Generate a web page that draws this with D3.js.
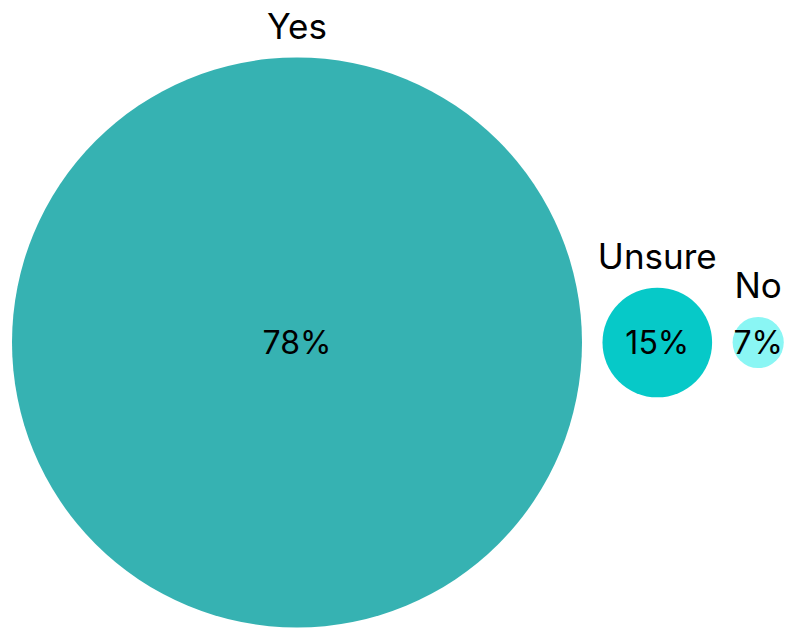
<!DOCTYPE html>
<html>
<head>
<meta charset="utf-8">
<script src="https://cdn.jsdelivr.net/npm/d3@7"></script>
<style>
  html, body { margin: 0; padding: 0; background: #ffffff; }
  svg { display: block; }
  text { font-family: "Inter", "Open Sans", sans-serif; fill: #000; }
</style>
</head>
<body>
<svg id="chart" width="787" height="629"></svg>
<script>
// Survey answers and their shares (percent)
const categories = ["Yes", "Unsure", "No"];
const shares = [78, 15, 7];
const colors = ["#36b2b2", "#06c9c8", "#8af6f4"];

const width = 787, height = 629;
const svg = d3.select("#chart");

// Circle radius grows linearly with the share
const r = d3.scaleLinear().domain([0, d3.max(shares)]).range([0, 285]);

const gap = 20.5;
const left = 12;
const cy = 342.5;

// Lay the circles out side by side, left to right
let cursor = left;
const nodes = categories.map((name, i) => {
  const radius = r(shares[i]);
  const cx = cursor + radius;
  cursor = cx + radius + gap;
  return { name, value: shares[i], color: colors[i], cx, radius };
});

const g = svg.selectAll("g.bubble")
  .data(nodes)
  .join("g")
  .attr("class", "bubble");

g.append("circle")
  .attr("cx", d => d.cx)
  .attr("cy", cy)
  .attr("r", d => d.radius)
  .attr("fill", d => d.color);

// Category name above each circle
g.append("text")
  .attr("x", d => d.cx)
  .attr("y", d => cy - d.radius - 19)
  .attr("text-anchor", "middle")
  .attr("font-size", 35)
  .text(d => d.name);

// Share inside each circle
g.append("text")
  .attr("x", d => d.cx)
  .attr("y", cy)
  .attr("dy", "0.36em")
  .attr("text-anchor", "middle")
  .attr("font-size", 32)
  .text(d => d.value + "%");
</script>
</body>
</html>
